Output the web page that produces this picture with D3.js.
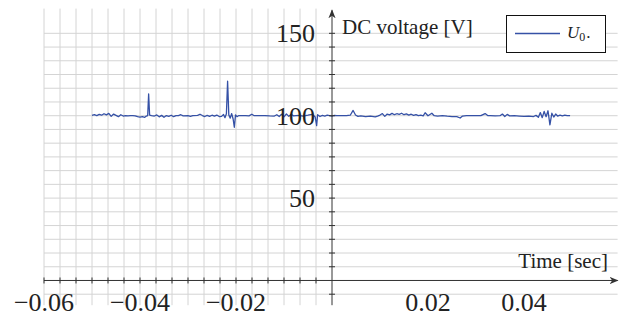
<!DOCTYPE html>
<html>
<head>
<meta charset="utf-8">
<script src="https://cdn.jsdelivr.net/npm/d3@7"></script>
<style>
  html, body { margin: 0; padding: 0; background: #fff; }
  svg text { font-family: "Liberation Serif", "Times New Roman", serif; fill: #222; }
</style>
</head>
<body>
<div id="chart"></div>
<script>
'use strict';

// measured DC voltage, time in ms
var timeMs = [
  -50, -49.5, -49, -48.5, -48, -47.5, -47, -46.5, -46, -45.5, -45, -44.5, -44, -43.5, -43, -42.5, -42, -41.5, -41,
  -40.5, -40, -39.5, -39, -38.8, -38.4, -38.2, -38.0, -37.6, -37, -36.5, -36, -35.5, -35, -34.5, -34, -33.5, -33,
  -32.5, -32, -31.5, -31, -30, -29.5, -29, -28, -27.5, -27, -26.5, -26, -25.5, -25, -24.5, -24, -23.5,
  -23, -22.6, -22.3, -22.0, -21.75, -21.5, -21.2, -20.9, -20.6, -20.35, -20.1, -19.8, -19.4, -19, -18, -17.3, -16.7, -16.2,
  -15, -14, -13, -12, -11.5, -11, -10.5, -10, -9.5, -9, -8.5, -8, -7, -6, -5, -4.2, -3.8, -3.5, -3.2, -3.0, -2.5, -2,
  -1.5, -1, -0.5, 0, 0.5, 1, 2, 3, 3.8, 4.4, 4.9, 5.4, 6, 7, 8, 9, 9.5,
  10, 10.5, 11, 11.5, 12, 12.5, 13, 13.5, 14, 14.5, 15, 15.5, 16, 16.5, 17, 17.5, 18, 18.5, 19, 19.4, 20, 20.8, 21.3,
  22, 23, 24, 25, 26, 26.7, 27.2, 28, 29, 30, 31, 31.9, 32.5, 33, 34, 35, 35.5, 36, 36.5, 37, 38, 39, 40, 41,
  42, 42.5, 43, 43.4, 43.8, 44.2, 44.6, 45.0, 45.4, 45.8, 46.2, 46.6, 47, 47.5, 48, 48.5, 49, 49.6
];
var voltage = [
  100.2, 100.6, 100.1, 100.8, 100.3, 101.2, 100.5, 101.4, 99.6, 101.0, 100.2, 99.4, 100.6, 99.8, 100.1, 99.9, 100.0, 100.0, 99.9,
  99.4, 99.2, 99.5, 99.0, 99.6, 100.0, 113.2, 100.4, 100.0, 99.8, 100.5, 99.3, 100.2, 99.0, 100.1, 99.6, 100.3, 99.4,
  100.0, 100.1, 100.6, 99.9, 100.0, 99.6, 100.0, 100.2, 100.9, 100.1, 99.5, 100.2, 99.6, 100.3, 99.7, 100.4, 99.5,
  99.6, 100.8, 98.8, 101.2, 120.9, 100.5, 98.5, 101.3, 98.0, 93.0, 100.5, 99.4, 100.1, 100.0, 100.0, 99.9, 100.9, 100.0,
  100.0, 100.1, 99.9, 99.8, 100.6, 99.5, 100.9, 99.3, 101.1, 99.6, 100.8, 99.9, 100.2, 99.8, 100.3, 100.8, 100.0, 99.2, 94.0, 100.6, 99.5, 100.2,
  99.8, 100.3, 100.0, 99.8, 100.2, 100.0, 100.1, 100.0, 100.3, 103.2, 100.4, 99.6, 99.9, 99.4, 99.7, 99.3, 99.8,
  100.4, 101.3, 99.6, 101.0, 100.5, 101.4, 100.6, 101.2, 100.8, 101.5, 100.6, 101.1, 100.4, 100.9, 100.2, 100.7, 100.0, 100.3, 99.9, 101.8, 100.0, 101.5, 100.0,
  99.8, 100.0, 99.7, 99.5, 99.4, 98.6, 99.8, 100.0, 100.1, 100.0, 100.0, 101.3, 100.0, 100.0, 99.9, 100.0, 101.0, 99.5, 100.8, 99.9, 100.0, 99.8, 99.6, 99.8,
  99.5, 100.2, 99.0, 101.9, 98.8, 102.6, 99.4, 103.0, 94.4, 101.5, 99.2, 101.0, 99.8, 100.4, 99.9, 100.3, 100.0, 100.0
];

var xTickValues = [-0.06, -0.04, -0.02, 0.02, 0.04];
var yTickValues = [50, 100, 150];
var xLabel = 'Time [sec]';
var yLabel = 'DC voltage [V]';
var seriesName = 'U';
var seriesSub = '0';

var W = 629, H = 321;
var lineColor = '#3551a6';
var gridColor = '#d4d4d4';
var axisColor = '#333';

var x = d3.scaleLinear().domain([-0.06, 0.0595]).range([44, 617.6]);
var y = d3.scaleLinear().domain([-15, 165]).range([305.2, 8.6]);

var svg = d3.select('#chart').append('svg')
  .attr('width', W)
  .attr('height', H);

// minor grid: 6 steps between major ticks
var xGrid = d3.range(0, 18).map(function(i) { return -0.06 + i * 0.02 / 6; });
var yGrid = d3.range(-1, 19).map(function(i) { return i * 50 / 6; });

var grid = svg.append('g').attr('stroke', gridColor).attr('stroke-width', 1);
grid.selectAll('line.v').data(xGrid).enter().append('line')
  .attr('x1', function(d) { return x(d); })
  .attr('x2', function(d) { return x(d); })
  .attr('y1', y(-15))
  .attr('y2', y(165));
grid.selectAll('line.h').data(yGrid).enter().append('line')
  .attr('x1', x(-0.06))
  .attr('x2', x(0.0595))
  .attr('y1', function(d) { return y(d); })
  .attr('y2', function(d) { return y(d); });

// arrow head for the axes
svg.append('defs').append('marker')
  .attr('id', 'arr')
  .attr('viewBox', '0 0 10 10')
  .attr('refX', 9).attr('refY', 5)
  .attr('markerWidth', 9).attr('markerHeight', 9)
  .attr('markerUnits', 'userSpaceOnUse')
  .attr('orient', 'auto')
  .append('path')
  .attr('d', 'M0,1 L10,5 L0,9 L3,5 Z')
  .attr('fill', axisColor);

var data = timeMs.map(function(t, i) { return [t / 1000, voltage[i]]; });

var line = d3.line()
  .x(function(d) { return x(d[0]); })
  .y(function(d) { return y(d[1]); });

svg.append('path')
  .datum(data)
  .attr('d', line)
  .attr('fill', 'none')
  .attr('stroke', lineColor)
  .attr('stroke-width', 1.3)
  .attr('stroke-linejoin', 'round');

// axes through the origin
var ax = svg.append('g').attr('stroke', axisColor).attr('stroke-width', 1);
ax.append('line')
  .attr('x1', x(-0.06)).attr('x2', x(0.0595))
  .attr('y1', y(0)).attr('y2', y(0))
  .attr('marker-end', 'url(#arr)');
ax.append('line')
  .attr('x1', x(0)).attr('x2', x(0))
  .attr('y1', y(-15)).attr('y2', y(164))
  .attr('marker-end', 'url(#arr)');

ax.selectAll('line.xt').data(xGrid).enter().append('line')
  .attr('x1', function(d) { return x(d); })
  .attr('x2', function(d) { return x(d); })
  .attr('y1', y(0) - 3).attr('y2', y(0) + 3);
ax.selectAll('line.yt').data(yGrid.filter(function(d) { return d !== 0; })).enter().append('line')
  .attr('x1', x(0) - 3).attr('x2', x(0) + 3)
  .attr('y1', function(d) { return y(d); })
  .attr('y2', function(d) { return y(d); });

// tick labels
var fmt = function(d) { return d3.format('.2f')(d).replace('-', '\u2212'); };
svg.selectAll('text.xl').data(xTickValues).enter().append('text')
  .attr('x', function(d) { return x(d); })
  .attr('y', y(0) + 31)
  .attr('text-anchor', 'middle')
  .attr('font-size', 26)
  .text(fmt);
svg.selectAll('text.yl').data(yTickValues).enter().append('text')
  .attr('x', x(0) - 17)
  .attr('y', function(d) { return y(d) + 9; })
  .attr('text-anchor', 'end')
  .attr('font-size', 26)
  .text(function(d) { return d; });

// axis labels
svg.append('text')
  .attr('x', x(0) + 10).attr('y', 34)
  .attr('font-size', 21)
  .text(yLabel);
svg.append('text')
  .attr('x', 608).attr('y', 268)
  .attr('text-anchor', 'end')
  .attr('font-size', 21)
  .text(xLabel);

// legend
var lg = svg.append('g');
lg.append('rect')
  .attr('x', 506.5).attr('y', 15.5)
  .attr('width', 99).attr('height', 37)
  .attr('fill', '#fff')
  .attr('stroke', '#111').attr('stroke-width', 1);
lg.append('line')
  .attr('x1', 515).attr('x2', 560)
  .attr('y1', 33.5).attr('y2', 33.5)
  .attr('stroke', lineColor).attr('stroke-width', 1.3);
var lt = lg.append('text')
  .attr('x', 567).attr('y', 38)
  .attr('font-size', 17);
lt.append('tspan').attr('font-style', 'italic').text(seriesName);
lt.append('tspan').attr('font-size', 12).attr('dy', 3).text(seriesSub);
lt.append('tspan').attr('dy', -3).attr('dx', 1).text('.');
</script>
</body>
</html>
